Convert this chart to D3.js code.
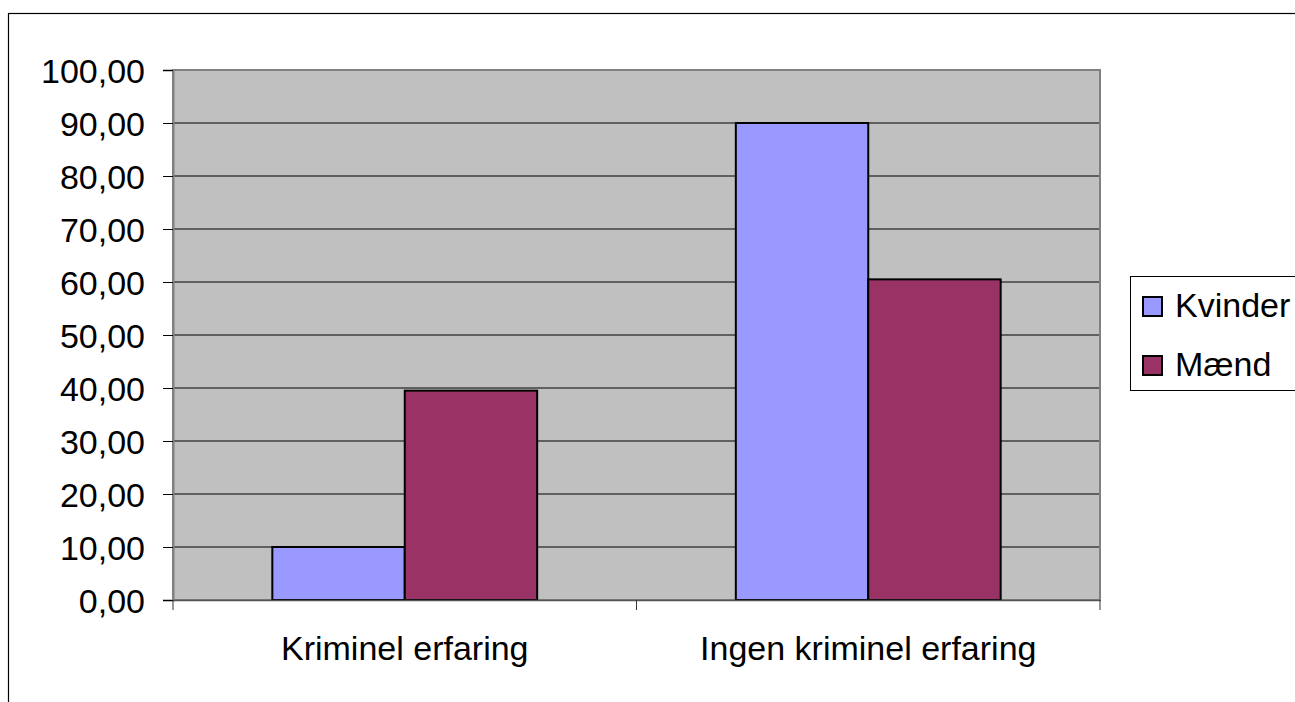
<!DOCTYPE html>
<html>
<head>
<meta charset="utf-8">
<script src="https://cdn.jsdelivr.net/npm/d3@7"></script>
<style>
  body { margin: 0; background: #fff; }
  text { font-family: "Liberation Sans", Arial, sans-serif; fill: #000; }
</style>
</head>
<body>
<div id="chart"></div>
<script>
const categories = ["Kriminel erfaring", "Ingen kriminel erfaring"];
const seriesNames = ["Kvinder", "Mænd"];
const kvinder = [10.0, 90.0];
const maend = [39.5, 60.5];
const yTicks = [0, 10, 20, 30, 40, 50, 60, 70, 80, 90, 100];
const colors = ["#9999FF", "#993366"];

const W = 1295, H = 702;
const plot = { left: 173, top: 70, right: 1100, bottom: 600 };

const svg = d3.select("#chart").append("svg")
  .attr("width", W)
  .attr("height", H);

// outer chart border (runs off the right and bottom edges)
svg.append("rect")
  .attr("x", 8.5).attr("y", 13.5)
  .attr("width", W + 10).attr("height", H + 10)
  .attr("fill", "#fff")
  .attr("stroke", "#000")
  .attr("stroke-width", 1.2);

const x0 = d3.scaleBand()
  .domain(categories)
  .range([plot.left, plot.right])
  .paddingInner(0)
  .paddingOuter(0);

const x1 = d3.scaleBand()
  .domain(seriesNames)
  .range([0, x0.bandwidth()])
  .paddingInner(0)
  .paddingOuter(0.75);

const y = d3.scaleLinear()
  .domain([0, 100])
  .range([plot.bottom, plot.top]);

// plot area background
svg.append("rect")
  .attr("x", plot.left).attr("y", plot.top)
  .attr("width", plot.right - plot.left)
  .attr("height", plot.bottom - plot.top)
  .attr("fill", "#C0C0C0");

// gridlines
svg.append("g")
  .selectAll("line")
  .data(yTicks.filter(d => d > 0 && d < 100))
  .join("line")
  .attr("x1", plot.left).attr("x2", plot.right)
  .attr("y1", d => y(d)).attr("y2", d => y(d))
  .attr("stroke", "#000")
  .attr("stroke-width", 1);

// plot border
svg.append("rect")
  .attr("x", plot.left).attr("y", plot.top)
  .attr("width", plot.right - plot.left)
  .attr("height", plot.bottom - plot.top)
  .attr("fill", "none")
  .attr("stroke", "#808080")
  .attr("stroke-width", 2);

// bars
const rows = categories.map((c, i) => ({
  cat: c,
  values: [
    { name: seriesNames[0], v: kvinder[i], color: colors[0] },
    { name: seriesNames[1], v: maend[i], color: colors[1] }
  ]
}));

svg.append("g")
  .selectAll("g")
  .data(rows)
  .join("g")
  .attr("transform", d => `translate(${x0(d.cat)},0)`)
  .selectAll("rect")
  .data(d => d.values)
  .join("rect")
  .attr("x", d => x1(d.name))
  .attr("y", d => y(d.v))
  .attr("width", x1.bandwidth())
  .attr("height", d => y(0) - y(d.v))
  .attr("fill", d => d.color)
  .attr("stroke", "#000")
  .attr("stroke-width", 2);

// y axis
const yAxis = svg.append("g")
  .attr("transform", `translate(${plot.left},0)`)
  .call(d3.axisLeft(y)
    .tickValues(yTicks)
    .tickSize(10)
    .tickPadding(18)
    .tickFormat(d => d3.format(".2f")(d).replace(".", ",")));
yAxis.select(".domain").attr("stroke", "#808080").attr("stroke-width", 2);
yAxis.selectAll(".tick line").attr("stroke", "#000");
yAxis.selectAll(".tick text")
  .style("font-size", "34px")
  .attr("dy", "0.36em");

// x axis
const xAxis = svg.append("g")
  .attr("transform", `translate(0,${plot.bottom})`)
  .call(d3.axisBottom(x0).tickSize(0).tickPadding(36));
xAxis.select(".domain").attr("stroke", "#555").attr("stroke-width", 1.5);
xAxis.selectAll(".tick text").style("font-size", "34px");

// category separator ticks
const bounds = [plot.left, ...categories.map(c => x0(c) + x0.bandwidth())];
svg.append("g")
  .selectAll("line")
  .data(bounds)
  .join("line")
  .attr("x1", d => d).attr("x2", d => d)
  .attr("y1", plot.bottom).attr("y2", plot.bottom + 10)
  .attr("stroke", "#333")
  .attr("stroke-width", 1);

// legend
const legend = svg.append("g").attr("transform", "translate(1130,276)");
legend.append("rect")
  .attr("x", 0.5).attr("y", 0.5)
  .attr("width", 175).attr("height", 114)
  .attr("fill", "#fff")
  .attr("stroke", "#000")
  .attr("stroke-width", 1);

const items = legend.selectAll("g.item")
  .data(seriesNames)
  .join("g")
  .attr("class", "item")
  .attr("transform", (d, i) => `translate(13,${21 + i * 59})`);

items.append("rect")
  .attr("width", 19).attr("height", 19)
  .attr("fill", (d, i) => colors[i])
  .attr("stroke", "#000")
  .attr("stroke-width", 2);

items.append("text")
  .attr("x", 32)
  .attr("y", 20)
  .style("font-size", "34px")
  .text(d => d);
</script>
</body>
</html>
